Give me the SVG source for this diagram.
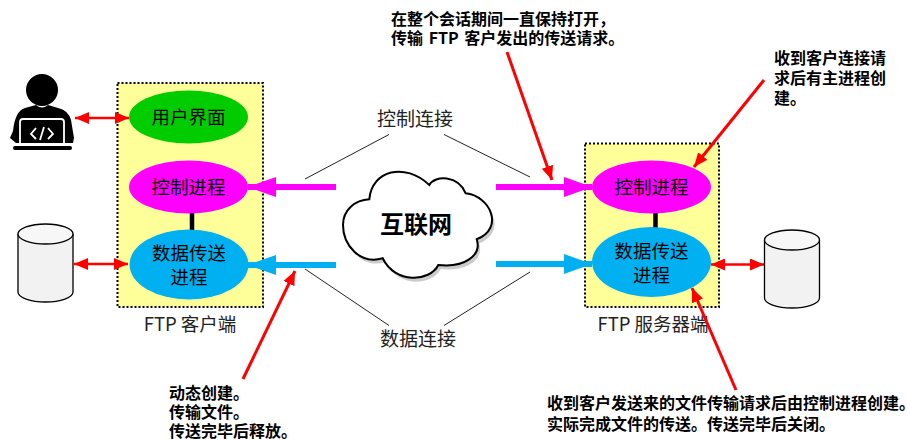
<svg xmlns="http://www.w3.org/2000/svg" width="907" height="440" viewBox="0 0 907 440">
<style>
text{font-family:"Noto Sans CJK SC","Noto Sans",sans-serif;fill:#000}
.lab{font-size:18.500px;text-anchor:middle}
.cap{font-size:18.500px;text-anchor:middle;fill:#222}
.con{font-size:19px;text-anchor:middle;fill:#222}
.note{font-size:16px;font-weight:700}
.box{fill:#ffff99;stroke:#000;stroke-width:2;stroke-dasharray:2 2}
.thin{stroke:#222;stroke-width:1;fill:none}
.red{stroke:#f00;stroke-width:3;fill:none}
.cyl{fill:#f2f2f2;stroke:#000;stroke-width:1.300}
</style>
<defs>
<marker id="r" viewBox="0 0 14 12" refX="14" refY="6" markerWidth="14" markerHeight="12" markerUnits="userSpaceOnUse" orient="auto-start-reverse"><path d="M0 0L14 6L0 12z" fill="#f00"/></marker>
<marker id="m" viewBox="0 0 28 20" refX="28" refY="10" markerWidth="28" markerHeight="20" markerUnits="userSpaceOnUse" orient="auto"><path d="M0 0L28 10L0 20z" fill="#ff00ff"/></marker>
<marker id="b" viewBox="0 0 28 20" refX="28" refY="10" markerWidth="28" markerHeight="20" markerUnits="userSpaceOnUse" orient="auto"><path d="M0 0L28 10L0 20z" fill="#00b0f0"/></marker>
</defs>
<g id="client-box"><rect class="box" x="117.500" y="83" width="145.500" height="224"/><text class="cap" x="190" y="331">FTP 客户端</text></g>
<g id="server-box"><rect class="box" x="585" y="143.500" width="134" height="163.500"/><text class="cap" x="653" y="331">FTP 服务器端</text></g>
<g id="links">
<path d="M192 210V232M655.500 212V228" stroke="#000" stroke-width="4.500" fill="none"/>
<path class="thin" d="M305 179L389 134.500M444 134.500L530 177M305 269L389 325.500M444 325.500L530 272"/>
<path d="M336 187H248" stroke="#ff00ff" stroke-width="6" fill="none" marker-end="url(#m)"/>
<path d="M496 187H592" stroke="#ff00ff" stroke-width="6" fill="none" marker-end="url(#m)"/>
<path d="M336 265H248" stroke="#00b0f0" stroke-width="6" fill="none" marker-end="url(#b)"/>
<path d="M496 264H592" stroke="#00b0f0" stroke-width="6" fill="none" marker-end="url(#b)"/>
<path d="M75 118H129" stroke="#f00" stroke-width="2.500" fill="none" marker-start="url(#r)" marker-end="url(#r)"/>
<path d="M74 264H128" stroke="#f00" stroke-width="2.500" fill="none" marker-start="url(#r)" marker-end="url(#r)"/>
<path d="M711 264.500H764" stroke="#f00" stroke-width="2.500" fill="none" marker-start="url(#r)" marker-end="url(#r)"/>
<path class="red" d="M507 52L552 180" marker-end="url(#r)"/>
<path class="red" d="M764 80L694 167" marker-end="url(#r)"/>
<path class="red" d="M736 390L692 288" marker-end="url(#r)"/>
<path class="red" d="M243 379L295 271" marker-end="url(#r)"/>
</g>
<g id="user"><circle cx="42" cy="90" r="16"/><path d="M13 131L10 138L16 143H73L74 138L71 120Q68 110 58 108L48 105Q42 110 36 105L25 108Q15 111 13 131Z"/><rect x="13" y="146" width="59" height="4" rx="2"/><path d="M20 143V122Q20 119 23 119H61Q64 119 64 122V143" fill="#000" stroke="#fff" stroke-width="1.800"/><path d="M36 128L31 134L36 139M48 128L53 134L48 139M44 127L40 140" fill="none" stroke="#fff" stroke-width="1.800"/></g>
<g id="client-ui"><ellipse cx="188.500" cy="117" rx="59.500" ry="26.500" fill="#00cc00"/><text class="lab" x="188.500" y="124">用户界面</text></g>
<g id="client-ctrl"><ellipse cx="188.500" cy="187" rx="59.500" ry="26.500" fill="#ff00ff"/><text class="lab" x="188.500" y="194">控制进程</text></g>
<g id="client-data"><ellipse cx="189" cy="264.500" rx="59.500" ry="35" fill="#00b0f0"/><text class="lab" x="189" y="260">数据传送</text><text class="lab" x="189" y="284">进程</text></g>
<g id="server-ctrl"><ellipse cx="651.500" cy="187" rx="59.500" ry="26.500" fill="#ff00ff"/><text class="lab" x="651.500" y="194">控制进程</text></g>
<g id="server-data"><ellipse cx="651.500" cy="262" rx="59.500" ry="35" fill="#00b0f0"/><text class="lab" x="651.500" y="258">数据传送</text><text class="lab" x="651.500" y="282">进程</text></g>
<g id="client-db"><path class="cyl" d="M18 234V292A27.500 10 0 0 0 73 292V234"/><ellipse class="cyl" cx="45.500" cy="234" rx="27.500" ry="10" style="fill:#f7f7f7"/></g>
<g id="server-db"><path class="cyl" d="M764.500 240V298A27.500 10 0 0 0 819.500 298V240"/><ellipse class="cyl" cx="792" cy="240" rx="27.500" ry="10" style="fill:#f7f7f7"/></g>
<g id="internet">
<path transform="translate(2.500 4)" fill="#ccc" d="M369.300 199.300C372 170 405 162 429.300 185C435 175 458 175 465.700 193.300C490 196 505 228 476.700 239.300C482 255 465 268 438.300 265C430 282 395 284 382.700 258.300C360 265 343 245 343 225C343 210 355 200 369.300 199.300Z"/>
<path fill="#fff" stroke="#000" stroke-width="2" d="M369.300 199.300C372 170 405 162 429.300 185C435 175 458 175 465.700 193.300C490 196 505 228 476.700 239.300C482 255 465 268 438.300 265C430 282 395 284 382.700 258.300C360 265 343 245 343 225C343 210 355 200 369.300 199.300Z"/>
<text x="416" y="233" font-size="24" font-weight="700" text-anchor="middle">互联网</text>
</g>
<g id="labels">
<text class="con" x="415" y="126">控制连接</text>
<text class="con" x="418" y="346">数据连接</text>
<text class="note" x="391" y="25">在整个会话期间一直保持打开，</text>
<text class="note" x="391" y="44" word-spacing="2">传输 FTP 客户发出的传送请求。</text>
<text class="note" x="774" y="64">收到客户连接请</text>
<text class="note" x="774" y="84">求后有主进程创</text>
<text class="note" x="774" y="104">建。</text>
<text class="note" x="547" y="409">收到客户发送来的文件传输请求后由控制进程创建。</text>
<text class="note" x="547" y="430">实际完成文件的传送。传送完毕后关闭。</text>
<text class="note" x="169" y="399">动态创建。</text>
<text class="note" x="169" y="418">传输文件。</text>
<text class="note" x="169" y="437">传送完毕后释放。</text>
</g>
</svg>
